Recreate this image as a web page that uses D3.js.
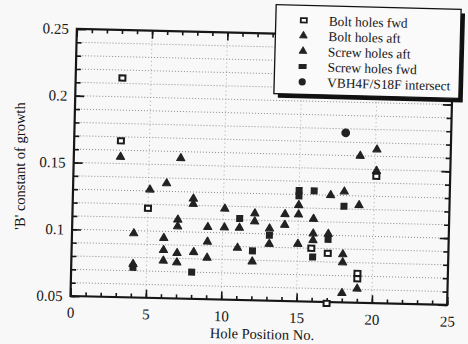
<!DOCTYPE html>
<html><head><meta charset="utf-8">
<script src="https://cdn.jsdelivr.net/npm/d3@7"></script>
<style>
body{margin:0;background:#f8f8f8}
svg{display:block}
</style>
</head><body>
<svg id="c" width="468" height="344"></svg>
<script>
// ---- data (x = hole position, y = 'B' constant of growth) ----
const boltFwd = [[3.1,0.214],[3.1,0.167],[5.0,0.117],[15.9,0.090],[17.0,0.0865],[19.0,0.072],[19.0,0.068],[17.0,0.049],[20.1,0.145]];
const boltAft = [[3.1,0.155],[5.1,0.131],[16.0,0.112],[16.0,0.101],[16.0,0.096],[17.0,0.101],[18.0,0.086],[18.0,0.080],[19.0,0.0605],[18.0,0.057],[20.1,0.149],[20.1,0.165],[19.0,0.160],[19.0,0.123],[18.0,0.133],[17.1,0.130]];
const screwAft = [[7.1,0.155],[6.2,0.136],[8.0,0.125],[8.0,0.121],[7.0,0.109],[7.0,0.104],[4.1,0.098],[6.1,0.095],[6.1,0.086],[6.1,0.078],[7.0,0.084],[7.0,0.077],[4.1,0.075],[8.1,0.085],[10.1,0.118],[12.1,0.115],[12.1,0.109],[14.1,0.115],[14.1,0.107],[15.0,0.122],[15.0,0.115],[9.0,0.104],[10.1,0.104],[11.1,0.104],[13.1,0.104],[9.0,0.093],[13.1,0.0925],[15.0,0.093],[11.0,0.089],[9.0,0.081],[12.0,0.079]];
const screwFwd = [[8.0,0.070],[11.1,0.111],[12.0,0.087],[15.0,0.133],[15.0,0.129],[16.0,0.133],[18.0,0.122],[16.0,0.0835],[17.0,0.097],[13.1,0.099],[4.1,0.0725]];
const intersect = [[18.0,0.177]];
const seriesNames = ["Bolt holes fwd","Bolt holes aft","Screw holes aft","Screw holes fwd","VBH4F/S18F intersect"];
const xTickValues = [0,5,10,15,20,25];
const xTickLabels = ["0","5","10","15","20","25"];
const yTickValues = [0.05,0.1,0.15,0.2,0.25];
const yTickLabels = ["0.05","0.1","0.15","0.2","0.25"];
const xTitle = "Hole Position No.";
const yTitle = "'B' constant of growth";

const FONT = "'Liberation Serif','Times New Roman',serif";
const INK = "#161616";
const svg = d3.select("#c");
svg.append("rect").attr("width",468).attr("height",344).attr("fill","#f8f8f8");

const x = d3.scaleLinear().domain([0,25]).range([70.5,447.25]);
const y = d3.scaleLinear().domain([0.05,0.25]).range([296,28.8]);
const ANG = 1.36;
const g = svg.append("g").attr("transform",`rotate(${ANG},${x(0)},${y(0.05)})`);

// grid
const hGrid = d3.range(6,25).map(i=>i/100);
g.append("g").selectAll("line").data(hGrid).join("line")
  .attr("x1",x(0)).attr("x2",x(25)).attr("y1",d=>y(d)).attr("y2",d=>y(d))
  .attr("stroke","#808080").attr("stroke-width",0.9).attr("stroke-dasharray","1,2");
const vGrid = [5,10,15,20];
g.append("g").selectAll("line").data(vGrid).join("line")
  .attr("y1",y(0.05)).attr("y2",y(0.25)).attr("x1",d=>x(d)).attr("x2",d=>x(d))
  .attr("stroke","#9a9a9a").attr("stroke-width",0.8).attr("stroke-dasharray","1,3");

function styleAxis(sel){
  sel.select(".domain").remove();
  sel.selectAll(".tick line").attr("stroke",INK).attr("stroke-width",1.6);
  sel.selectAll("text").attr("font-family",FONT).attr("font-size",15).attr("fill",INK);
}
const xMinor = d3.range(0,26);
const yMinor = d3.range(5,26).map(i=>i/100);
// bottom
g.append("g").attr("transform",`translate(0,${y(0.05)})`)
  .call(d3.axisBottom(x).tickValues(xMinor).tickSize(-4).tickFormat("")).call(styleAxis);
g.append("g").attr("transform",`translate(0,${y(0.05)})`)
  .call(d3.axisBottom(x).tickValues(xTickValues).tickSize(-8).tickPadding(11).tickFormat((d,i)=>xTickLabels[i])).call(styleAxis);
// top
g.append("g").attr("transform",`translate(0,${y(0.25)})`)
  .call(d3.axisTop(x).tickValues(xMinor).tickSize(-4).tickFormat("")).call(styleAxis);
g.append("g").attr("transform",`translate(0,${y(0.25)})`)
  .call(d3.axisTop(x).tickValues(xTickValues).tickSize(-8).tickFormat("")).call(styleAxis);
// left
g.append("g").attr("transform",`translate(${x(0)},0)`)
  .call(d3.axisLeft(y).tickValues(yMinor).tickSize(-5).tickFormat("")).call(styleAxis);
g.append("g").attr("transform",`translate(${x(0)},0)`)
  .call(d3.axisLeft(y).tickValues(yTickValues).tickSize(-9).tickPadding(8).tickFormat((d,i)=>yTickLabels[i])).call(styleAxis);
// right
g.append("g").attr("transform",`translate(${x(25)},0)`)
  .call(d3.axisRight(y).tickValues(yMinor).tickSize(-5).tickFormat("")).call(styleAxis);
g.append("g").attr("transform",`translate(${x(25)},0)`)
  .call(d3.axisRight(y).tickValues(yTickValues).tickSize(-9).tickFormat("")).call(styleAxis);

// frame
g.append("rect").attr("x",x(0)).attr("y",y(0.25)).attr("width",x(25)-x(0)).attr("height",y(0.05)-y(0.25))
  .attr("fill","none").attr("stroke",INK).attr("stroke-width",2.2);

// markers
const tri = d3.symbol().type(d3.symbolTriangle).size(28);
function drawTri(data){
  g.append("g").selectAll("path").data(data).join("path")
    .attr("d",tri).attr("transform",d=>`translate(${x(d[0])},${y(d[1])})`)
    .attr("fill","#222").attr("stroke","#222").attr("stroke-width",1.2).attr("stroke-linejoin","round");
}
drawTri(boltAft);
drawTri(screwAft);
g.append("g").selectAll("rect").data(screwFwd).join("rect")
  .attr("x",d=>x(d[0])-3.5).attr("y",d=>y(d[1])-3.5).attr("width",7).attr("height",7)
  .attr("fill","#222");
g.append("g").selectAll("rect").data(boltFwd).join("rect")
  .attr("x",d=>x(d[0])-3).attr("y",d=>y(d[1])-2.6).attr("width",6).attr("height",5.2)
  .attr("fill","#fff").attr("stroke","#1a1a1a").attr("stroke-width",2);
g.append("g").selectAll("circle").data(intersect).join("circle")
  .attr("cx",d=>x(d[0])).attr("cy",d=>y(d[1])).attr("r",4.4).attr("fill","#222");

// axis titles
svg.append("text").attr("x",262).attr("y",339).attr("text-anchor","middle")
  .attr("transform","rotate(1.2,262,335)")
  .attr("font-family",FONT).attr("font-size",14.5).attr("fill",INK).text(xTitle);
svg.append("text").attr("transform","translate(25,166) rotate(-90)").attr("text-anchor","middle")
  .attr("font-family",FONT).attr("font-size",14.5).attr("fill",INK).text(yTitle);

// legend
const lg = svg.append("g").attr("transform","rotate(1.5,367,52)");
const LX=275, LY=7, LW=185, LH=89;
lg.append("rect").attr("x",LX+4).attr("y",LY+4).attr("width",LW).attr("height",LH).attr("fill","#111");
lg.append("rect").attr("x",LX).attr("y",LY).attr("width",LW).attr("height",LH)
  .attr("fill","#fafafa").attr("stroke","#111").attr("stroke-width",1.3);
const rowY = i => 22 + i*15.4;
const mx = 303;
seriesNames.forEach((name,i)=>{
  const cy = rowY(i);
  if(i===0){
    lg.append("rect").attr("x",mx-3).attr("y",cy-2.2).attr("width",6).attr("height",4.4)
      .attr("fill","#fff").attr("stroke","#1a1a1a").attr("stroke-width",1.8);
  } else if(i===1||i===2){
    lg.append("path").attr("d",d3.symbol().type(d3.symbolTriangle).size(26)())
      .attr("transform",`translate(${mx},${cy})`).attr("fill","#222").attr("stroke","#222").attr("stroke-width",0.8);
  } else if(i===3){
    lg.append("rect").attr("x",mx-4).attr("y",cy-2.5).attr("width",8).attr("height",5).attr("fill","#222");
  } else {
    lg.append("circle").attr("cx",mx).attr("cy",cy).attr("r",3.6).attr("fill","#222");
  }
  lg.append("text").attr("x",328).attr("y",cy).attr("dy","0.35em")
    .attr("font-family",FONT).attr("font-size",13.4).attr("fill",INK).text(name);
});
</script>
</body></html>
